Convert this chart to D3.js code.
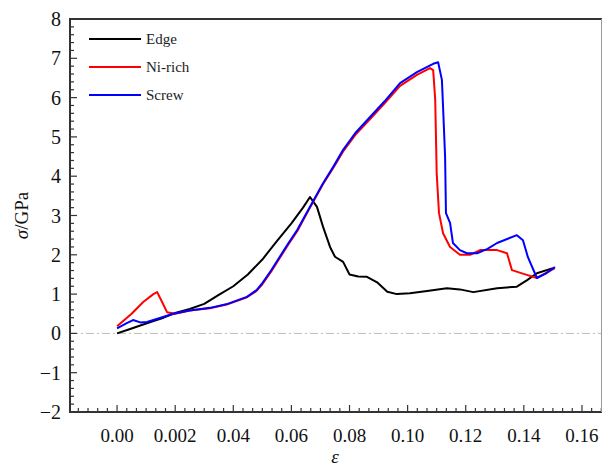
<!DOCTYPE html>
<html>
<head>
<meta charset="utf-8">
<script src="https://cdn.jsdelivr.net/npm/d3@7"></script>
<style>
  body { margin: 0; background: #fff; }
</style>
</head>
<body>
<div id="chart-container"></div>
<script>
// Stress-strain curves, [strain, stress in GPa].
const edge = [
  [0, 0], [0.004, 0.1], [0.008, 0.2], [0.012, 0.3], [0.016, 0.4], [0.02, 0.52],
  [0.025, 0.62], [0.03, 0.75], [0.035, 0.98], [0.04, 1.2], [0.045, 1.5], [0.05, 1.88],
  [0.055, 2.35], [0.06, 2.8], [0.064, 3.2], [0.0664, 3.47], [0.0688, 3.22], [0.0709, 2.71],
  [0.0733, 2.2], [0.075, 1.95], [0.0778, 1.82], [0.08, 1.5], [0.083, 1.45], [0.086, 1.44],
  [0.0895, 1.3], [0.093, 1.06], [0.0963, 1.0], [0.1008, 1.02], [0.1067, 1.08], [0.1135, 1.15],
  [0.118, 1.12], [0.1226, 1.05], [0.1308, 1.15], [0.1376, 1.19], [0.141, 1.35], [0.1445, 1.53],
  [0.150, 1.66]
];
const niRich = [
  [0, 0.18], [0.005, 0.5], [0.009, 0.8], [0.0125, 1.0], [0.0138, 1.05], [0.0155, 0.8],
  [0.0172, 0.54], [0.02, 0.5], [0.025, 0.58], [0.032, 0.64], [0.038, 0.74], [0.0447, 0.92],
  [0.048, 1.08], [0.05, 1.25], [0.053, 1.57], [0.056, 1.92], [0.059, 2.27], [0.062, 2.6],
  [0.0664, 3.2], [0.0709, 3.8], [0.0745, 4.22], [0.0778, 4.63], [0.082, 5.05], [0.087, 5.45],
  [0.092, 5.85], [0.0974, 6.3], [0.1032, 6.58], [0.1077, 6.75], [0.1088, 6.7], [0.1095, 5.94],
  [0.110, 4.08], [0.1108, 3.06], [0.1122, 2.55], [0.1146, 2.2], [0.118, 2.0], [0.1215, 2.0],
  [0.1249, 2.12], [0.1308, 2.12], [0.1342, 2.04], [0.1359, 1.61], [0.141, 1.49], [0.1445, 1.41],
  [0.1507, 1.66]
];
const screw = [
  [0, 0.13], [0.003, 0.25], [0.0055, 0.34], [0.008, 0.28], [0.0103, 0.29], [0.015, 0.4],
  [0.0193, 0.5], [0.025, 0.58], [0.032, 0.65], [0.038, 0.75], [0.0447, 0.93], [0.048, 1.1],
  [0.05, 1.28], [0.053, 1.6], [0.056, 1.95], [0.059, 2.3], [0.062, 2.63], [0.0664, 3.22],
  [0.0709, 3.82], [0.0745, 4.25], [0.0778, 4.67], [0.082, 5.1], [0.087, 5.5], [0.092, 5.9],
  [0.0974, 6.37], [0.1032, 6.65], [0.1088, 6.86], [0.1105, 6.9], [0.1118, 6.45], [0.1122, 5.76],
  [0.1129, 4.49], [0.1132, 3.06], [0.1146, 2.81], [0.1156, 2.3], [0.118, 2.12], [0.1204, 2.04],
  [0.1239, 2.04], [0.1275, 2.15], [0.1308, 2.3], [0.1376, 2.5], [0.1397, 2.37], [0.1414, 1.94],
  [0.1445, 1.41], [0.1475, 1.52], [0.1507, 1.69]
];
const seriesNames = ["Edge", "Ni-rich", "Screw"];
const seriesColors = ["#000000", "#ff0000", "#0000ff"];
const xTickValues = [0, 0.02, 0.04, 0.06, 0.08, 0.10, 0.12, 0.14, 0.16];
const xTickLabels = ["0.00", "0.002", "0.04", "0.06", "0.08", "0.10", "0.12", "0.14", "0.16"];
const yTickValues = [-2, -1, 0, 1, 2, 3, 4, 5, 6, 7, 8];

const serif = "'Liberation Serif', 'Times New Roman', 'DejaVu Serif', serif";
const width = 603, height = 466;
const margin = {top: 19, right: 1, bottom: 54, left: 70};

const svg = d3.select("#chart-container").append("svg")
  .attr("width", width)
  .attr("height", height)
  .attr("font-family", serif)
  .style("font-family", serif);

const x = d3.scaleLinear().domain([-0.0162, 0.1669]).range([margin.left, width - margin.right]);
const y = d3.scaleLinear().domain([-2, 8]).range([height - margin.bottom, margin.top]);

// zero reference line
svg.append("line")
  .attr("x1", x.range()[0]).attr("x2", x.range()[1])
  .attr("y1", y(0)).attr("y2", y(0))
  .attr("stroke", "#bbbbbb")
  .attr("stroke-width", 1)
  .attr("stroke-dasharray", "8,3,2,3");

// curves
const line = d3.line().x(d => x(d[0])).y(d => y(d[1]));
[edge, niRich, screw].forEach((data, i) => {
  svg.append("path")
    .datum(data)
    .attr("fill", "none")
    .attr("stroke", seriesColors[i])
    .attr("stroke-width", 2)
    .attr("stroke-linejoin", "round")
    .attr("d", line);
});

// axes: inward ticks, minor + major
const xMinor = d3.range(-15, 51).map(i => i * 0.02 / 6).filter(v => v > x.domain()[0] && v < x.domain()[1]);
const yMinor = d3.range(-10, 41).map(i => i * 0.2);

const xAxis = svg.append("g").attr("transform", `translate(0,${y(-2)})`);
xAxis.selectAll("line").data(xMinor).join("line")
  .attr("x1", d => x(d)).attr("x2", d => x(d))
  .attr("y1", 0).attr("y2", d => xTickValues.some(t => Math.abs(t - d) < 1e-6) ? -7 : -4)
  .attr("stroke", "#333").attr("stroke-width", 1.2);
xAxis.selectAll("text").data(xTickValues).join("text")
  .attr("x", d => x(d)).attr("y", 30)
  .attr("text-anchor", "middle")
  .attr("fill", "#111")
  .style("font-family", serif)
  .style("font-size", "19px")
  .text((d, i) => xTickLabels[i]);

const yAxis = svg.append("g").attr("transform", `translate(${x(x.domain()[0])},0)`);
yAxis.selectAll("line").data(yMinor).join("line")
  .attr("y1", d => y(d)).attr("y2", d => y(d))
  .attr("x1", 0).attr("x2", d => Math.abs(d - Math.round(d)) < 1e-6 ? 7 : 4)
  .attr("stroke", "#333").attr("stroke-width", 1.2);
yAxis.selectAll("text").data(yTickValues).join("text")
  .attr("x", -9).attr("y", d => y(d)).attr("dy", "0.35em")
  .attr("text-anchor", "end")
  .attr("fill", "#111")
  .style("font-family", serif)
  .style("font-size", "20px")
  .text(d => d < 0 ? "\u2212" + Math.abs(d) : d);

// frame
svg.append("path")
  .attr("d", `M${x.range()[1]},${y(8)}H${x.range()[0]}V${y(-2)}H${x.range()[1]}`)
  .attr("fill", "none").attr("stroke", "#333").attr("stroke-width", 2);
svg.append("line")
  .attr("x1", x.range()[1] - 0.5).attr("x2", x.range()[1] - 0.5)
  .attr("y1", y(8)).attr("y2", y(-2))
  .attr("stroke", "#999").attr("stroke-width", 1);

// axis titles
svg.append("text")
  .attr("x", x(0.075)).attr("y", 463)
  .attr("text-anchor", "middle")
  .attr("fill", "#111")
  .style("font-family", serif)
  .style("font-size", "19px").style("font-style", "italic")
  .text("\u03b5");
const yTitle = svg.append("text")
  .attr("transform", `translate(28,${y(3)}) rotate(-90)`)
  .attr("text-anchor", "middle")
  .attr("fill", "#111")
  .style("font-family", serif)
  .style("font-size", "19px");
yTitle.append("tspan").style("font-style", "italic").text("\u03c3");
yTitle.append("tspan").text("/GPa");

// legend
const legend = svg.append("g");
seriesNames.forEach((name, i) => {
  const ly = 39 + i * 28;
  legend.append("line")
    .attr("x1", 89).attr("x2", 141).attr("y1", ly).attr("y2", ly)
    .attr("stroke", seriesColors[i]).attr("stroke-width", 2);
  legend.append("text")
    .attr("x", 146).attr("y", ly).attr("dy", "0.35em")
    .attr("fill", "#222")
    .style("font-family", serif)
    .style("font-size", "15px")
    .text(name);
});
</script>
</body>
</html>
